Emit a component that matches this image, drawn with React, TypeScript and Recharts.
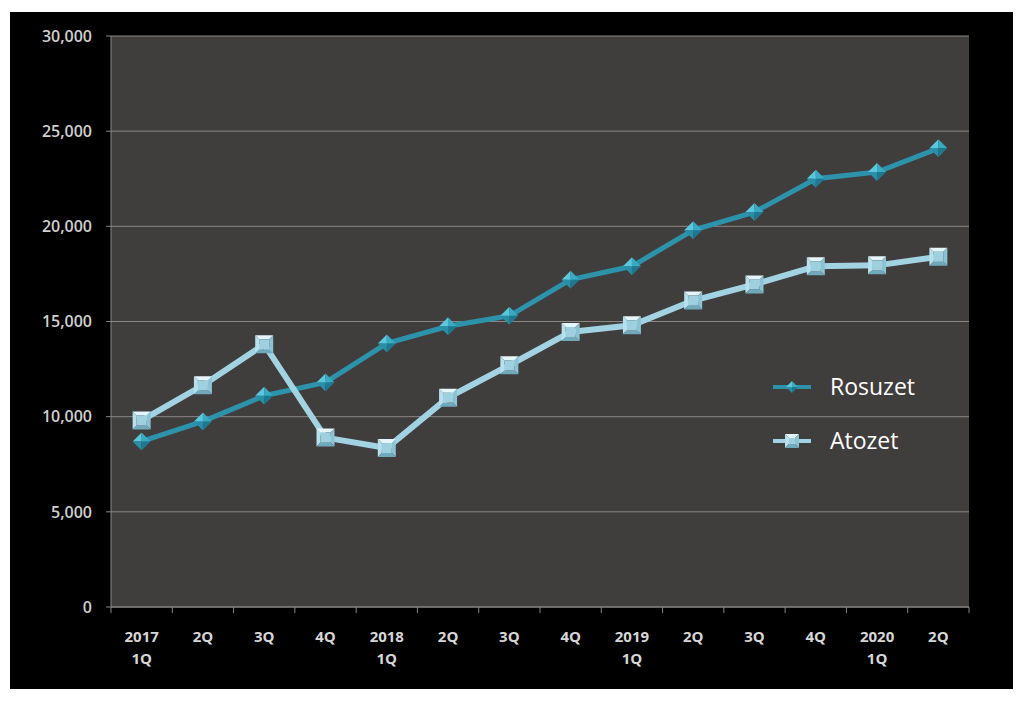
import React from 'react';
import { LineChart, Line, XAxis, YAxis, CartesianGrid, Legend } from 'recharts';

const categories = ['2017\n1Q', '2Q', '3Q', '4Q', '2018\n1Q', '2Q', '3Q', '4Q', '2019\n1Q', '2Q', '3Q', '4Q', '2020\n1Q', '2Q'];
const rosuzet = [8700, 9750, 11100, 11800, 13850, 14750, 15300, 17200, 17900, 19800, 20750, 22500, 22850, 24100];
const atozet = [9800, 11650, 13800, 8900, 8350, 11000, 12700, 14450, 14800, 16100, 16950, 17900, 17950, 18400];
const yTicks = [0, 5000, 10000, 15000, 20000, 25000, 30000];
const seriesOrder = ['Rosuzet', 'Atozet'];

const data = categories.map((c, i) => ({ cat: c, Rosuzet: rosuzet[i], Atozet: atozet[i] }));

const W = 1003;
const H = 677;
const M = { top: 24, right: 44, left: 0, bottom: 0 };
const Y_W = 101;
const X_H = 82;
const PLOT_W = W - M.left - M.right - Y_W;
const HALF = PLOT_W / categories.length / 2;
const AXIS_Y = H - M.bottom - X_H;

const GRAY = '#8a8784';
const ROS = '#2c93ab';
const ATO = '#a2d3e2';
const FONT = '"Open Sans", sans-serif';

const Diamond = ({ cx, cy, s = 9 }: any) => (
  <g>
    <polygon points={`${cx},${cy - s} ${cx - s},${cy} ${cx},${cy}`} fill="#5cc6dd" />
    <polygon points={`${cx},${cy - s} ${cx + s},${cy} ${cx},${cy}`} fill="#3aaac3" />
    <polygon points={`${cx - s},${cy} ${cx},${cy + s} ${cx},${cy}`} fill="#2a8ea6" />
    <polygon points={`${cx + s},${cy} ${cx},${cy + s} ${cx},${cy}`} fill="#1f7890" />
  </g>
);

const Square = ({ cx, cy, s = 9 }: any) => {
  const i = 4;
  const o = { l: cx - s, r: cx + s, t: cy - s, b: cy + s };
  const n = { l: cx - s + i, r: cx + s - i, t: cy - s + i, b: cy + s - i };
  return (
    <g>
      <polygon points={`${o.l},${o.t} ${o.r},${o.t} ${n.r},${n.t} ${n.l},${n.t}`} fill="#e4f6fb" />
      <polygon points={`${o.l},${o.t} ${n.l},${n.t} ${n.l},${n.b} ${o.l},${o.b}`} fill="#b6e0ec" />
      <polygon points={`${o.r},${o.t} ${o.r},${o.b} ${n.r},${n.b} ${n.r},${n.t}`} fill="#8cc3d4" />
      <polygon points={`${o.l},${o.b} ${n.l},${n.b} ${n.r},${n.b} ${o.r},${o.b}`} fill="#6fa9bb" />
      <rect x={n.l} y={n.t} width={n.r - n.l} height={n.b - n.t} fill="#9fd0e0" />
    </g>
  );
};

const XTick = (props: any) => {
  const { x, payload, index } = props;
  const lines = String(payload.value).split('\n');
  return (
    <g>
      <line x1={x - HALF} x2={x - HALF} y1={AXIS_Y} y2={AXIS_Y + 6} stroke={GRAY} />
      {index === categories.length - 1 && (
        <line x1={x + HALF} x2={x + HALF} y1={AXIS_Y} y2={AXIS_Y + 6} stroke={GRAY} />
      )}
      {lines.map((l, i) => (
        <text key={i} x={x} y={AXIS_Y + 35 + i * 22} textAnchor="middle" fill="#d6d6d6"
          fontFamily={FONT} fontSize={15} fontWeight={700}>{l}</text>
      ))}
    </g>
  );
};

const renderLegend = (props: any) => {
  const items = [...(props.payload || [])].sort(
    (a: any, b: any) => seriesOrder.indexOf(a.value) - seriesOrder.indexOf(b.value)
  );
  return (
    <svg width={200} height={110} style={{ display: 'block' }}>
      {items.map((it: any, i: number) => {
        const cy = 30 + i * 54;
        const isRos = it.value === 'Rosuzet';
        return (
          <g key={it.value}>
            <line x1={8} x2={46} y1={cy} y2={cy} stroke={isRos ? ROS : ATO} strokeWidth={4} />
            {isRos ? <Diamond cx={27} cy={cy} s={6} /> : <Square cx={27} cy={cy} s={7} />}
            <text x={65} y={cy + 8} fill="#ffffff" fontFamily={FONT} fontSize={23}>{it.value}</text>
          </g>
        );
      })}
    </svg>
  );
};

export default function App() {
  return (
    <div style={{ paddingLeft: 2, paddingTop: 4 }}>
      <LineChart width={W} height={H} data={data} margin={M} style={{ background: '#000' }}>
        <CartesianGrid vertical={false} stroke={GRAY} fill="#403d3d" strokeOpacity={1} />
        <XAxis dataKey="cat" interval={0} axisLine={{ stroke: GRAY }} tickLine={false}
          height={X_H} tick={<XTick />} padding={{ left: HALF, right: HALF }} />
        <YAxis domain={[0, 30000]} ticks={yTicks} width={Y_W} axisLine={{ stroke: GRAY }}
          tickLine={{ stroke: GRAY }} tickSize={5} tickMargin={14}
          tickFormatter={(v: number) => v.toLocaleString('en-US')}
          tick={{ fill: '#cfcfcf', fontFamily: FONT, fontSize: 16, fontWeight: 600 }} />
        <Legend layout="vertical" align="center" verticalAlign="middle" content={renderLegend}
          wrapperStyle={{ left: 755, top: 345, width: 200, height: 110 }} />
        <Line dataKey="Rosuzet" stroke={ROS} strokeWidth={5} isAnimationActive={false}
          dot={(p: any) => <Diamond key={p.index} cx={p.cx} cy={p.cy} />} activeDot={false} />
        <Line dataKey="Atozet" stroke={ATO} strokeWidth={6} isAnimationActive={false}
          dot={(p: any) => <Square key={p.index} cx={p.cx} cy={p.cy} />} activeDot={false} />
      </LineChart>
    </div>
  );
}
